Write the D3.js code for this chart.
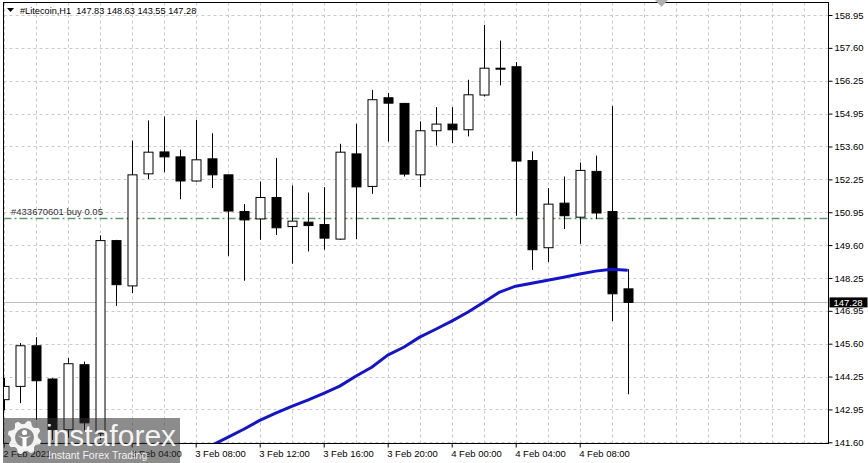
<!DOCTYPE html>
<html><head><meta charset="utf-8">
<script src="https://cdn.jsdelivr.net/npm/d3@7"></script>
<style>
body{margin:0;background:#fff}
svg{display:block}
text{font-family:"Liberation Sans",Arial,sans-serif}
</style>
</head><body><svg id="c" width="868" height="463"></svg>
<script>
// ---- data ----
const symbol = "#Litecoin,H1";
const headerValues = ["147.83", "148.63", "143.55", "147.28"];
const open  = [143.33,143.87,145.52,144.17,142.11,144.75,141.95,149.79,147.95,152.50,153.39,153.19,152.21,153.11,152.46,150.97,150.67,151.54,150.36,150.54,150.44,149.85,153.31,151.99,155.59,155.36,152.46,154.25,154.52,154.29,155.70,156.79,156.85,153.04,149.50,151.31,150.74,152.60,150.97,147.83];
const high  = [144.21,145.63,145.87,144.20,145.02,144.88,150.00,149.82,153.85,154.67,154.83,153.48,154.69,154.15,152.46,151.27,152.19,153.14,152.03,151.74,151.96,153.72,154.53,155.91,155.78,155.38,154.63,155.21,155.21,156.32,158.55,157.91,157.04,153.41,151.92,152.39,152.96,153.24,155.25,148.63];
const low   = [142.90,143.19,142.51,141.70,141.78,142.03,141.70,147.14,147.66,152.29,152.57,151.47,152.18,151.92,149.17,148.16,149.82,150.02,148.85,149.35,149.42,149.82,149.85,151.69,153.81,152.39,151.96,153.65,153.75,154.02,155.64,156.09,150.80,148.60,148.92,150.26,149.66,150.67,146.52,143.55];
const close = [143.87,145.52,144.10,142.11,144.79,142.39,149.79,148.00,152.46,153.38,153.19,152.21,153.07,152.46,150.99,150.63,151.54,150.31,150.58,150.40,149.89,153.38,151.97,155.51,155.37,152.49,154.25,154.52,154.29,155.71,156.79,156.75,153.02,149.42,151.27,150.80,152.64,150.91,147.63,147.28];
const maValues = [null,null,null,null,null,null,null,null,null,null,null,null,null,
  141.48,141.80,142.13,142.49,142.78,143.06,143.31,143.59,143.88,144.28,144.65,145.14,145.46,145.87,146.19,146.52,146.88,147.29,147.70,147.94,148.06,148.18,148.30,148.43,148.55,148.63,148.59];
const yTickLabels = ["141.60","142.95","144.25","145.60","146.95","148.25","149.60","150.95","152.25","153.60","154.95","156.25","157.60","158.95"];
const xTickIndex = [0, 8, 12, 16, 20, 24, 28, 32, 36];
const xTickLabels = ["2 Feb 2021","3 Feb 04:00","3 Feb 08:00","3 Feb 12:00","3 Feb 16:00","3 Feb 20:00","4 Feb 00:00","4 Feb 04:00","4 Feb 08:00"];
const orderPrice = 150.70;
const orderLabel = "#433670601 buy 0.05";
const lastPrice = 147.28;
const lastPriceLabel = "147.28";

// ---- layout ----
const L = 3.5, R = 828.5, T = 2.5, B = 443.5;
const n = open.length;
const svg = d3.select("#c");
const x = d3.scaleLinear().domain([0, n - 1]).range([3.7, 627.7]);
const yMin = +yTickLabels[0], yMax = +yTickLabels[yTickLabels.length - 1];
const y = d3.scaleLinear().domain([yMin, yMax]).range([442.3, 15]);
const yTickVals = yTickLabels.map((_, i) => yMin + i * (yMax - yMin) / (yTickLabels.length - 1));

svg.append("defs").append("clipPath").attr("id", "plot")
  .append("rect").attr("x", L).attr("y", T).attr("width", R - L).attr("height", B - T);

const grid = svg.append("g").attr("stroke", "#c9c9c9").attr("stroke-width", 1).attr("stroke-dasharray", "3,3");
grid.selectAll(".h").data(yTickVals).join("line")
  .attr("x1", L).attr("x2", R)
  .attr("y1", d => Math.round(y(d)) + 0.5).attr("y2", d => Math.round(y(d)) + 0.5);
grid.selectAll(".v").data(d3.range(0, 51, 2).filter(i => x(i) < R)).join("line")
  .attr("x1", d => Math.round(x(d)) + 0.5).attr("x2", d => Math.round(x(d)) + 0.5)
  .attr("y1", T).attr("y2", B);

const plot = svg.append("g").attr("clip-path", "url(#plot)");

// current price line
plot.append("line").attr("x1", L).attr("x2", R)
  .attr("y1", Math.round(y(lastPrice)) + 0.5).attr("y2", Math.round(y(lastPrice)) + 0.5)
  .attr("stroke", "#bdbdbd").attr("stroke-width", 1);

// order line
plot.append("line").attr("x1", L).attr("x2", R)
  .attr("y1", Math.round(y(orderPrice)) + 0.5).attr("y2", Math.round(y(orderPrice)) + 0.5)
  .attr("stroke", "#5f9a6c").attr("stroke-width", 1.3).attr("stroke-dasharray", "8,3,2,3");
svg.append("text").attr("x", 11).attr("y", Math.round(y(orderPrice)) - 3)
  .attr("font-size", 9.5).attr("fill", "#333").text(orderLabel);

// candles
const idx = d3.range(n);
const bw = 9;
plot.append("g").selectAll("line").data(idx).join("line")
  .attr("x1", i => Math.round(x(i)) + 0.5).attr("x2", i => Math.round(x(i)) + 0.5)
  .attr("y1", i => y(high[i])).attr("y2", i => y(low[i]))
  .attr("stroke", "#000").attr("stroke-width", 1);
plot.append("g").selectAll("rect").data(idx).join("rect")
  .attr("x", i => Math.round(x(i)) - bw / 2 + 0.5)
  .attr("width", bw)
  .attr("y", i => y(Math.max(open[i], close[i])))
  .attr("height", i => Math.max(1, Math.abs(y(open[i]) - y(close[i]))))
  .attr("fill", i => close[i] >= open[i] ? "#fff" : "#000")
  .attr("stroke", "#000").attr("stroke-width", 1);

// moving average
const line = d3.line().defined(i => maValues[i] != null).x(i => x(i)).y(i => y(maValues[i])).curve(d3.curveLinear);
plot.append("path").attr("d", line(idx)).attr("fill", "none")
  .attr("stroke", "#1414c8").attr("stroke-width", 3).attr("stroke-linejoin", "round");

// frame
svg.append("rect").attr("x", L).attr("y", T).attr("width", R - L).attr("height", B - T)
  .attr("fill", "none").attr("stroke", "#000").attr("stroke-width", 1);

// y axis
const yAxis = svg.append("g").attr("transform", `translate(${R},0)`)
  .call(d3.axisRight(y).tickValues(yTickVals).tickFormat((d, i) => yTickLabels[i]).tickSize(4).tickPadding(2));
yAxis.select(".domain").remove();
yAxis.selectAll("text").attr("font-size", 9.5).attr("font-family", "Liberation Sans, Arial, sans-serif").attr("fill", "#000");
yAxis.selectAll("line").attr("stroke", "#000");

// last price label
svg.append("rect").attr("x", R + 1).attr("y", y(lastPrice) - 5).attr("width", 38).attr("height", 10).attr("fill", "#000");
svg.append("text").attr("x", R + 5).attr("y", y(lastPrice) + 3.5).attr("font-size", 9.5).attr("fill", "#fff").text(lastPriceLabel);

// x axis
const xAxis = svg.append("g").attr("transform", `translate(0,${B})`)
  .call(d3.axisBottom(x).tickValues(xTickIndex).tickFormat((d, i) => xTickLabels[i]).tickSize(4).tickPadding(3));
xAxis.select(".domain").remove();
xAxis.selectAll("text").attr("font-size", 9.5).attr("font-family", "Liberation Sans, Arial, sans-serif")
  .attr("text-anchor", "start").attr("dx", -1).attr("fill", "#000");
xAxis.selectAll("line").attr("stroke", "#000");

// header
svg.append("path").attr("d", "M7,8 L14,8 L10.5,12 Z").attr("fill", "#000");
svg.append("text").attr("x", 20).attr("y", 13.5).attr("font-size", 9.2).attr("fill", "#000")
  .attr("xml:space", "preserve").text(symbol + "  " + headerValues.join(" "));

// chart shift marker
svg.append("path").attr("d", "M655,0 L668,0 L661.5,7 Z").attr("fill", "#b0b0b0");

// watermark
const wm = svg.append("g");
wm.append("rect").attr("x", 3).attr("y", 418).attr("width", 177).attr("height", 45).attr("fill", "rgba(45,45,45,0.55)");
const cx = 24.5, cy = 437.5, teeth = 8;
const gearPts = [];
for (let k = 0; k < teeth * 4; k++) {
  const a = (k / (teeth * 4)) * 2 * Math.PI - Math.PI / 2;
  const r = (k % 4 === 1 || k % 4 === 2) ? 17 : 13.5;
  gearPts.push([cx + r * Math.cos(a), cy + r * Math.sin(a)]);
}
wm.append("path").attr("d", d3.line()(gearPts) + "Z").attr("fill", "rgba(255,255,255,0.9)");
wm.append("circle").attr("cx", cx).attr("cy", cy).attr("r", 9.5).attr("fill", "#8a8a8a");
wm.append("circle").attr("cx", cx).attr("cy", cy - 5).attr("r", 2.6).attr("fill", "#fff");
wm.append("path").attr("d", `M${cx-7},${cy-2} Q${cx},${cy+1} ${cx+7},${cy-2} L${cx+2},${cy+1} L${cx+2},${cy+10} L${cx-2},${cy+10} L${cx-2},${cy+1} Z`).attr("fill", "#fff");
wm.append("text").attr("x", 46).attr("y", 446).attr("font-size", 30).attr("font-family", "Lato, 'Open Sans', sans-serif")
  .attr("font-weight", 300).attr("fill", "rgba(255,255,255,0.92)").text("instaforex");
wm.append("text").attr("x", 48).attr("y", 459).attr("font-size", 10.5).attr("fill", "rgba(255,255,255,0.9)").text("Instant Forex Trading");
</script>
</body></html>
